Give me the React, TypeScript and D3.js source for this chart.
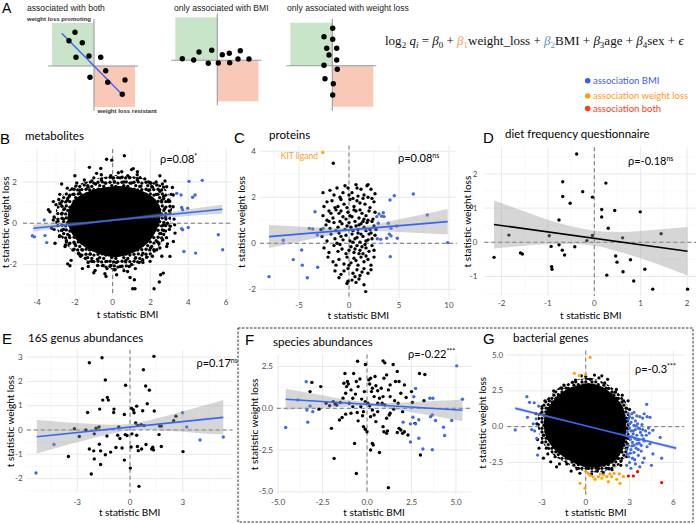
import React from "react";
import * as d3 from "d3";

// ---------------- Panel A schematic data (diagram units) ----------------
const schemaBoth = [[-1.9,3.37],[-2.5,2.53],[-1.17,2.33],[-1.8,0.87],[-0.5,1.0],[0.67,0.87],[1.17,-0.47],[-0.4,-1.13],[1.37,-1.63],[3.1,-1.4],[2.83,-2.83]];
const schemaBothLine = [[-3.23,3.27],[2.77,-2.8]];
const schemaBMI = [[-3.5,0.16],[-2.36,0.03],[-1.83,0.83],[-0.56,1.0],[-0.9,-0.3],[0.1,-0.27],[0.5,0.56],[1.2,0.7],[1.24,-0.24],[2.3,0.96],[2.07,0.13],[3.17,0.13]];
const schemaWL = [[0.04,3.74],[-0.83,2.9],[0.04,2.64],[-0.56,1.74],[0.44,1.74],[-0.33,1.07],[0.44,0.57],[-0.83,0.04],[0.5,-0.36],[-0.73,-1.3],[0.1,-1.8],[0.04,-2.93]];
const schemaTitles = ["associated with both", "only associated with BMI", "only associated with weight loss"];
const legendLabels = ["association BMI", "association weight loss", "association both"];

// ---------------- B: metabolites ----------------
// densest region (solid), surrounding dense region (speckled), then individual points
const metabCore = [[-2.3,0.5],[-2.0,1.1],[-1.4,1.45],[-0.7,1.65],[0.1,1.75],[0.9,1.7],[1.6,1.5],[2.2,1.15],[2.5,0.6],[2.4,0.0],[2.1,-0.6],[1.6,-1.1],[0.9,-1.45],[0.1,-1.6],[-0.7,-1.45],[-1.4,-1.15],[-2.0,-0.65],[-2.3,-0.1]];
const metabMid = [[-3.0,0.6],[-2.7,1.3],[-2.1,1.75],[-1.3,2.05],[-0.4,2.25],[0.4,2.35],[1.2,2.25],[2.0,2.05],[2.7,1.75],[3.1,1.1],[3.1,0.3],[2.85,-0.45],[2.45,-1.1],[1.9,-1.65],[1.1,-2.05],[0.3,-2.25],[-0.5,-2.15],[-1.3,-1.85],[-2.0,-1.45],[-2.6,-0.85],[-3.0,-0.15]];
const metabBlack = [[0.62,3.27],[-0.32,3.10],[-0.05,3.06],[-1.23,2.71],[-0.63,2.66],[1.09,2.65],[1.31,2.5],[0.48,2.5],[-0.85,2.42],[1.45,2.21],[2.77,2.05],[2.63,1.9],[2.33,1.85],[2.01,1.94],[2.86,1.77],[3.16,1.73],[3.21,1.37],[2.95,1.13],[-2.15,1.66],[-1.73,1.45],[-3.14,1.05],[-2.79,0.94],[-3.40,0.65],[-3.32,0.56],[-3.14,0.16],[-3.23,-0.24],[-2.82,-0.65],[-3.05,-0.97],[-2.52,-1.13],[-2.38,-1.97],[-2.26,-2.06],[-1.73,-1.53],[-1.29,-2.10],[-0.93,-2.29],[-0.41,-2.45],[-0.35,-2.58],[0.12,-2.26],[0.21,-2.5],[0.88,-2.10],[0.79,-2.34],[0.92,-2.63],[1.15,-2.74],[1.06,-3.18],[1.18,-3.18],[2.19,-3.18],[2.47,-2.85],[2.54,-2.5],[2.68,-2.42],[3.03,-1.61],[1.98,-1.85],[1.59,-1.77],[2.33,-1.29],[2.86,-1.13],[3.21,-0.89],[3.30,-0.48],[3.28,-0.08],
[-3.0,0.9],[-2.8,1.4],[-2.4,1.7],[-1.9,1.95],[-1.5,2.1],[-1.0,2.2],[-0.6,2.35],[-0.1,2.3],[0.3,2.45],[0.8,2.3],[1.3,2.35],[1.7,2.15],[2.3,2.0],[2.7,1.75],[3.1,1.4],[3.2,0.8],[3.25,0.2],[3.0,-0.3],[2.85,-0.7],[2.5,-1.2],[2.1,-1.6],[1.6,-1.9],[1.2,-2.2],[0.6,-2.3],[0.1,-2.25],[-0.3,-2.2],[-0.8,-2.05],[-1.3,-1.9],[-1.7,-1.6],[-2.1,-1.3],[-2.5,-1.05],[-2.8,-0.6],[-3.1,-0.3],[-3.1,0.3],[-2.2,-1.8],[-1.0,-2.4],[2.9,-1.0],[2.6,-1.6],[-2.7,1.9],[-2.0,2.3],[1.0,2.6],[2.5,2.3],[-1.6,-2.2],
[-2.6,0.2],[-2.55,0.7],[-2.4,1.1],[-2.1,1.4],[-1.75,1.6],[-1.3,1.75],[-0.9,1.9],[-0.4,1.95],[0.1,2.0],[0.6,2.0],[1.0,1.95],[1.5,1.8],[1.9,1.6],[2.3,1.4],[2.6,1.1],[2.75,0.7],[2.8,0.3],[2.7,-0.1],[2.55,-0.5],[2.3,-0.85],[2.0,-1.2],[1.6,-1.45],[1.2,-1.7],[0.7,-1.8],[0.2,-1.9],[-0.3,-1.85],[-0.8,-1.75],[-1.2,-1.5],[-1.6,-1.3],[-2.0,-1.0],[-2.3,-0.6],[-2.6,-0.3],
[-2.7,0.45],[-2.3,1.3],[-1.5,1.85],[-0.6,2.1],[0.4,2.2],[1.3,2.1],[2.1,1.75],[2.7,1.3],[3.0,0.6],[2.9,0.0],[2.7,-0.35],[2.45,-1.0],[1.8,-1.65],[1.0,-2.0],[0.4,-2.1],[-0.5,-2.05],[-1.1,-1.85],[-1.8,-1.45],[-2.3,-1.0],[-2.7,-0.35],[-2.9,0.1],
[-2.85,1.15],[-1.95,1.8],[-1.1,2.05],[0.0,2.2],[0.9,2.2],[1.9,2.0],[2.5,1.55],[2.95,1.05],[3.05,-0.15],[2.65,-0.8],[2.2,-1.35],[1.4,-1.9],[-0.1,-2.05],[-1.45,-1.7],[-2.45,-0.85],[-2.75,0.95]];
const metabBlue = [[-4.25,-0.61],[-4.14,-0.66],[-3.62,0.16],[-3.58,-0.60],[-3.49,-0.94],[3.65,0.76],[3.70,0.65],[3.62,1.37],[3.39,1.45],[4.04,2.03],[4.23,1.26],[4.36,1.37],[4.74,2.08],[3.97,0.73],[4.0,-0.21],[3.65,-0.27],[3.70,-0.32],[3.77,-1.37],[4.39,-1.45],[5.59,-0.56],[5.82,-1.29]];
const metabBandX = [-4.2,-3,-2,-1,0,1,2,3,4,5,5.8];
const metabBandLo = [-0.41,-0.26,-0.13,-0.01,0.10,0.18,0.24,0.29,0.35,0.42,0.46];
const metabBandHi = [-0.07,0.00,0.05,0.11,0.20,0.30,0.42,0.55,0.67,0.80,0.90];
const metabLineX = [-4.2,5.8];
const metabLineY = [-0.24,0.68];

// ---------------- C: proteins ----------------
const protBlack = [[-1.57,3.48],[0.7,2.55],[1.9,2.55],
[-2.6,2.2],[-1.9,2.3],[-1.2,2.4],[-0.4,2.5],[-0.1,2.4],[0.8,2.4],[1.2,2.35],[1.8,2.5],[2.2,2.35],[0.3,2.2],[-0.6,2.2],[1.5,2.1],[2.6,2.15],[-1.5,2.1],[0.9,2.05],[-0.9,2.0],[1.9,2.0],[0.0,2.1],
[-2.2,1.8],[-1.7,1.85],[-1.1,1.6],[-0.5,1.7],[0.1,1.9],[0.5,1.6],[1.1,1.75],[1.6,1.7],[2.1,1.55],[2.5,1.8],[-1.4,1.55],[-0.2,1.55],[0.8,1.85],[1.4,1.95],[2.3,1.95],[-2.5,1.6],[0.4,1.95],[-0.8,1.9],
[-2.6,1.2],[-2.0,1.4],[-1.6,1.1],[-1.0,1.3],[-0.6,1.15],[-0.1,1.35],[0.3,1.15],[0.7,1.4],[1.0,1.1],[1.3,1.3],[1.7,1.2],[2.0,1.4],[2.4,1.05],[-2.2,1.0],[-1.3,1.45],[-0.3,1.05],[0.5,1.45],[1.5,1.05],[1.9,1.0],[2.6,1.35],[-0.8,1.4],[0.1,1.2],[1.1,1.45],[-1.8,1.3],
[-2.8,0.6],[-2.3,0.8],[-1.9,0.65],[-1.5,0.9],[-1.1,0.7],[-0.7,0.85],[-0.4,0.6],[0.0,0.9],[0.2,0.7],[0.6,0.95],[0.9,0.6],[1.2,0.85],[1.5,0.7],[1.8,0.9],[2.1,0.6],[2.5,0.75],[-1.3,0.55],[0.4,0.55],[1.0,0.8],[1.7,0.55],[2.3,0.95],[-0.9,0.95],[0.7,0.75],[1.4,0.95],[-0.2,0.75],[2.7,0.6],[-2.0,0.95],
[-2.7,0.3],[-2.2,0.1],[-1.8,0.4],[-1.4,0.2],[-1.0,0.45],[-0.6,0.15],[-0.3,0.35],[0.1,0.1],[0.3,0.4],[0.6,0.2],[0.9,0.45],[1.1,0.05],[1.4,0.3],[1.7,0.1],[2.0,0.4],[2.3,0.2],[2.6,0.35],[-1.2,0.0],[0.8,0.25],[1.9,0.15],[0.4,0.05],[-0.8,0.3],[1.2,0.4],[2.2,0.45],
[-2.5,-0.2],[-2.0,-0.4],[-1.5,-0.1],[-1.1,-0.35],[-0.7,-0.25],[-0.3,-0.45],[0.2,-0.15],[0.5,-0.4],[0.8,-0.1],[1.1,-0.3],[1.4,-0.45],[1.7,-0.2],[2.0,-0.35],[2.3,-0.1],[0.0,-0.3],[1.0,-0.45],[1.6,-0.05],[-0.9,-0.05],[0.6,-0.25],[2.5,-0.3],[1.3,-0.15],
[-2.1,-0.6],[-1.6,-0.8],[-1.0,-0.7],[-0.5,-0.9],[-0.2,-0.6],[0.2,-0.85],[0.5,-0.65],[0.9,-0.95],[1.2,-0.6],[1.5,-0.8],[1.9,-0.7],[2.2,-0.95],[0.7,-0.75],[1.7,-0.55],[0.0,-0.95],[2.5,-0.6],[-1.3,-0.95],
[-1.4,-1.2],[-0.8,-1.35],[-0.1,-1.1],[0.4,-1.3],[0.8,-1.15],[1.1,-1.4],[1.5,-1.1],[1.9,-1.3],[2.2,-1.15],[0.6,-1.45],[1.3,-1.25],[-0.5,-1.2],
[-0.2,-1.75],[-0.1,-1.65],[0.3,-1.6],[1.0,-1.55],[1.67,-2.1],[1.5,-1.8],[0.7,-1.7],[-1.0,-1.5]];
const protBlue = [[-8.0,-1.45],[-6.57,0.13],[-5.57,-0.71],[-4.73,-0.29],[-4.67,-0.95],[-4.17,-1.50],[-3.97,0.65],[-3.63,0.62],[-3.40,1.37],[-3.13,-1.04],[-3.17,0.36],[-2.57,0.64],[2.77,1.16],[3.0,1.27],[3.27,1.18],[3.43,1.33],[3.5,1.16],[2.93,0.87],[3.77,0.22],[2.83,0.20],[3.17,0.17],[4.03,0.40],[4.2,0.32],[3.93,0.87],[4.2,0.65],[4.13,-0.58],[4.1,1.88],[4.53,2.07],[4.83,0.22],[4.77,0.75],[6.43,2.14],[7.83,1.23],[9.87,0.03]];
const protOrange = [[-2.63,3.95]];
const protBandX = [-8,-6,-4,-2,0,2,4,6,8,9.87];
const protBandLo = [-0.21,-0.03,0.16,0.34,0.50,0.53,0.51,0.47,0.43,0.39];
const protBandHi = [0.79,0.75,0.70,0.68,0.66,0.77,0.95,1.13,1.31,1.49];
const protLineX = [-8.0,9.87];
const protLineY = [0.29,0.94];

// ---------------- D: diet frequency questionnaire ----------------
const dietBlack = [[-0.38,2.58],[-0.68,1.77],[0.25,1.73],[-0.25,1.48],[-0.68,1.34],[-0.04,1.32],[-0.52,1.14],[0.16,0.96],[0.44,0.93],[0.99,0.89],[0.16,0.74],[-0.76,0.65],[0.30,0.41],[-1.84,0.21],[-0.97,0.19],[-0.04,0.20],[1.44,0.25],[0.61,0.13],[-0.16,0.05],[-0.76,-0.07],[-0.93,-0.12],[-0.42,-0.13],[-0.69,-0.23],[-1.59,-0.31],[-1.55,-0.34],[-0.64,-0.37],[-2.16,-0.44],[0.46,-0.40],[0.49,-0.58],[0.78,-0.51],[-0.92,-0.71],[-0.91,-0.79],[1.09,-0.79],[0.62,-0.86],[0.27,-0.96],[0.85,-1.13],[1.26,-1.37],[2.01,-1.37]];
const dietBandX = [-2.16,-1.5,-1.0,-0.5,0,0.5,1.0,1.5,2.01];
const dietBandLo = [-0.18,-0.10,-0.06,-0.05,-0.10,-0.26,-0.47,-0.71,-0.97];
const dietBandHi = [1.22,0.90,0.66,0.47,0.34,0.30,0.33,0.39,0.45];
const dietLineX = [-2.16,2.01];
const dietLineY = [0.52,-0.26];

// ---------------- E: 16S genus abundances ----------------
const genusBlack = [[1.36,3.03],[-1.59,2.97],[-2.31,2.77],[0.76,2.48],[-1.40,2.06],[-0.25,1.84],[0.89,1.81],[1.10,1.64],[-1.29,1.34],[-1.23,1.23],[-1.55,1.23],[0.98,1.08],[0.38,0.98],[-1.72,0.86],[-0.91,0.86],[0.09,0.89],[0.19,0.82],[0.72,0.79],[1.38,0.78],[-0.93,0.72],[-2.41,0.72],[0.23,0.71],[-0.32,0.64],[2.61,0.57],[2.48,0.38],[0.32,0.29],[0.64,0.22],[0.80,0.18],[1.78,0.16],[1.69,0.16],[0.45,0.19],[-3.16,0.05],[-1.76,0.12],[-1.93,0.07],[-2.50,0.00],[-0.64,0.12],[-0.27,-0.19],[0.11,-0.16],[-0.17,-0.23],[-2.88,-0.27],[-2.03,-0.16],[-1.31,-0.25],[-0.70,-0.22],[-0.57,-0.35],[0.38,-0.22],[1.65,-0.19],[-2.31,-0.78],[-2.06,-0.86],[-1.67,-0.86],[-1.40,-1.02],[-1.74,-0.59],[-1.10,-0.91],[-0.80,-0.72],[-0.45,-0.74],[0.06,-0.70],[0.42,-0.68],[0.47,-0.85],[0.66,-0.78],[0.91,-0.60],[1.23,-0.78],[1.29,-0.71],[1.34,-0.82],[1.78,-0.68],[3.01,-0.89],[-3.50,-1.09],[-2.03,-1.19],[-0.32,-1.24],[-1.67,-1.42],[0.02,-1.57],[-2.20,-1.81],[0.51,-2.32]];
const genusBlue = [[2.99,0.71],[3.22,0.12],[3.98,-0.41],[5.30,-0.29],[-4.32,-0.60],[-5.34,-1.77]];
const genusBandX = [-5.3,-4,-3,-2,-1,0,1,2,3,4,5.3];
const genusBandLo = [-0.97,-0.70,-0.51,-0.31,-0.14,-0.01,0.01,-0.03,-0.07,-0.13,-0.19];
const genusBandHi = [0.41,0.34,0.29,0.25,0.22,0.25,0.39,0.57,0.77,0.97,1.23];
const genusLineX = [-5.3,5.3];
const genusLineY = [-0.28,0.52];

// ---------------- F: species abundances ----------------
const speciesBlack = [[-0.53,2.82],[-0.09,2.62],[0.9,2.84],[1.0,2.72],[1.47,2.62],[-1.24,2.08],[-0.75,2.08],[2.95,2.08],[3.25,2.02],[1.7,2.2],[-0.4,1.75],[0.2,1.8],[0.1,1.7],[0.5,1.35],[-1.1,1.6],[-1.05,1.45],[-3.1,1.55],[-3.2,1.0],[-2.6,1.3],[0.95,1.8],[1.3,1.4],[1.6,1.6],[1.2,1.1],[0.8,1.2],[0.6,1.05],[0.3,1.2],[0.25,1.0],[-0.15,1.0],[-0.5,1.3],[-0.65,0.85],[-0.9,1.1],[-1.2,0.9],[-1.35,0.6],[-1.7,0.2],[-1.8,0.25],[-1.9,0.4],[-2.3,0.3],[-2.7,-0.05],[-1.0,0.3],[-0.8,0.6],[-0.3,0.55],[0.05,0.3],[0.15,0.15],[0.4,0.7],[0.7,0.6],[0.9,0.7],[1.3,0.7],[1.9,0.9],[2.1,1.4],[1.8,1.6],[2.5,1.0],[3.2,0.45],[2.2,0.65],[2.0,-0.2],[1.3,-0.3],[1.25,-0.4],[0.6,-0.2],[0.4,-0.4],[0.2,-0.5],[-0.2,-0.2],[-0.55,-0.25],[-0.8,0.1],[-1.2,-0.35],[-1.4,-0.55],[-1.55,-0.7],[-2.0,-1.2],[-0.5,-0.75],[-0.2,-1.1],[0.0,-1.4],[-0.1,-1.25],[0.5,-0.8],[0.9,-1.1],[0.95,-1.4],[1.1,-1.5],[1.8,-1.2],[1.9,-1.3],[2.0,-1.5],[2.1,-1.4],[2.3,-1.6],[1.7,-1.45],[-0.7,-2.1],[0.3,-2.1],[0.35,-2.2],[0.2,-2.5],[0.7,-2.65],[3.0,-2.8],[-1.85,-3.0],[-0.6,-3.9],[1.2,-4.75],[-0.35,0.1],[0.6,0.3],[1.0,0.2],[1.5,-0.05],[1.75,0.3],[-0.1,0.4],[-1.5,0.35],[-2.1,0.15],[0.85,0.3],[1.1,-0.6],[0.3,-0.1],[-0.9,-0.3],[-1.3,1.5],[-1.15,1.3],[-0.6,1.6],[0.15,1.45],[0.45,1.9],[1.1,2.0],[2.55,0.35],[1.55,0.45],[-0.25,-0.45],[1.15,-1.35],[2.7,-0.9]];
const speciesBlue = [[-4.57,-1.15],[-3.42,1.59],[-3.89,0.50],[-3.38,-0.10],[-3.33,-0.83],[-3.20,0.14],[-3.05,-0.20],[2.73,1.19],[2.63,0.69],[2.58,-0.54],[2.44,-0.93],[2.44,-2.02],[2.73,-0.93],[2.91,-0.69],[2.91,-1.79],[3.14,-2.44],[3.67,-2.48],[3.53,0.60],[3.70,0.60],[3.67,-0.40],[3.57,-0.50],[3.85,-0.73],[4.30,-1.13],[4.36,-1.63],[4.76,-0.73],[5.04,2.54],[5.36,0.54],[2.03,-0.83]];
const speciesBandX = [-4.57,-3,-2,-1,0,1,2,3,4,5.36];
const speciesBandLo = [-0.09,0.01,0.06,0.11,0.13,0.04,-0.14,-0.32,-0.51,-0.77];
const speciesBandHi = [1.17,0.87,0.68,0.49,0.35,0.30,0.34,0.40,0.45,0.53];
const speciesLineX = [-4.57,5.36];
const speciesLineY = [0.54,-0.12];

// ---------------- G: bacterial genes ----------------
const genesCore = [[-2.8,0.4],[-2.6,1.15],[-2.2,1.75],[-1.7,2.25],[-1.1,2.6],[-0.4,2.85],[0.3,2.95],[0.9,2.8],[1.5,2.45],[2.0,2.0],[2.45,1.4],[2.65,0.7],[2.7,0.0],[2.65,-0.7],[2.55,-1.35],[2.25,-1.95],[1.8,-2.45],[1.2,-2.7],[0.5,-2.8],[-0.2,-2.7],[-0.8,-2.45],[-1.4,-2.1],[-2.0,-1.65],[-2.5,-1.0],[-2.75,-0.35]];
const genesMid = [[-3.3,0.5],[-3.1,1.3],[-2.6,2.0],[-2.0,2.6],[-1.3,3.0],[-0.5,3.3],[0.3,3.4],[1.0,3.2],[1.7,2.8],[2.3,2.3],[2.8,1.6],[3.0,0.8],[3.0,0.0],[3.0,-0.8],[2.9,-1.6],[2.6,-2.3],[2.1,-2.8],[1.4,-3.1],[0.6,-3.2],[-0.2,-3.1],[-0.9,-2.8],[-1.6,-2.4],[-2.3,-1.9],[-2.9,-1.2],[-3.2,-0.4]];
const genesBlack = [[-3.4,0.9],[-3.3,-0.9],[-3.2,-1.5],[-2.4,-2.45],[-1.8,-2.6],[-2.8,1.8],[-2.2,2.5],[-1.5,2.9],[-0.7,3.25],[0.0,3.5],[0.6,3.6],[1.1,3.55],[1.5,3.3],[2.1,2.6],[2.5,2.2],[-0.3,3.55],[0.9,3.4],[-1.0,-3.1],[-0.4,-3.25],[0.4,-3.3],[1.2,-3.2],[1.8,-3.0],[2.4,-2.7],[2.8,-2.1],[-2.6,-1.9],[-3.0,-1.1],[-3.35,0.2],[-3.0,1.4],[2.9,1.8],[3.0,1.2],[-2.9,-2.2],[-2.0,-2.8],[-3.1,0.9],[-2.9,-0.6],[-2.5,1.8],[-1.7,2.7],[-0.9,3.1],[0.3,3.3],[1.3,3.05],[2.0,2.4],[2.6,1.8],[2.85,0.4],[2.85,-1.2],[2.4,-2.4],[1.6,-2.95],[0.8,-3.1],[-0.6,-2.95],[-1.3,-2.6],[-2.1,-2.1],[-2.7,-1.5]];
const genesBlue = [[2.9,0.5],[3.0,0.7],[3.1,0.3],[3.2,0.6],[3.3,0.1],[3.4,0.4],[3.5,0.75],[3.7,0.7],[3.9,0.6],[4.2,0.7],[4.4,0.65],[3.0,-0.1],[3.1,-0.3],[3.25,-0.5],[3.4,-0.2],[3.5,-0.6],[3.6,-0.1],[3.75,-0.4],[3.9,-0.2],[4.1,-0.3],[4.35,-0.45],[4.6,-0.25],[2.95,-0.7],[3.05,-0.9],[3.2,-1.1],[3.35,-0.8],[3.5,-1.2],[3.65,-0.9],[3.8,-1.3],[4.0,-1.0],[4.2,-1.4],[4.4,-1.2],[2.9,-1.3],[3.1,-1.6],[3.3,-1.8],[3.45,-1.5],[3.6,-2.0],[3.8,-1.7],[4.0,-2.2],[3.2,-2.2],[3.0,-2.5],[3.4,-2.6],[3.7,-2.8],[2.85,-1.9],[2.8,-2.7],[3.9,-2.5],[4.5,-2.7],[5.2,-2.2],[5.1,-0.75],[4.17,1.56],[3.15,0.9],[2.9,0.95],[3.55,0.2],[3.25,-0.3],[3.0,0.2],[3.15,-1.35],[3.6,-1.6],[4.15,-0.6],[3.85,0.15],[2.95,-2.1],[3.35,-2.3],[2.85,-0.35],[4.6,-1.9],[3.3,1.0],[3.7,-0.15],[3.05,-1.85],[3.5,-0.9],[2.8,-1.6],[4.3,-0.1],[3.95,-0.85],[3.1,-2.9],[4.0,0.9],[3.45,0.05],[3.3,-1.3],[3.65,-1.15],[3.15,-0.7],[3.85,-0.6],
[-4.83,-0.23],[-4.03,2.09],[-3.85,1.7],[-3.53,1.67],[-3.23,1.44],[-3.99,0.65],[-3.6,0.2],[-3.5,-0.3],[-3.7,-0.2],[-3.35,-0.81],[-3.3,-1.98],[-3.4,0.55]];
const genesOrange = [[0.3,4.84],[-0.78,3.72],[-0.43,3.56],[0.0,3.65],[-0.39,-3.95],[-0.05,-4.3],[0.18,-3.26],[0.3,-3.4],[0.64,-3.67],[0.87,-3.49],[1.1,-3.6],[1.21,-3.37],[1.44,-3.49],[1.55,-3.84],[1.78,-3.49],[1.94,-3.26],[2.12,-3.67],[2.35,-3.95],[2.58,-3.49],[0.02,-3.14],[1.0,-3.3],[1.65,-3.3],[2.3,-3.3],[0.5,-3.5]];
const genesRed = [[2.92,-3.44],[3.26,-3.44],[3.55,-3.14],[5.2,-3.9]];
const genesBandX = [-4.83,-2,0,2,4,6.2];
const genesBandLo = [1.15,0.50,0.03,-0.50,-1.04,-1.65];
const genesBandHi = [1.41,0.62,0.09,-0.40,-0.86,-1.37];
const genesLineX = [-4.83,6.2];
const genesLineY = [1.28,-1.51];

// ---------------- styling ----------------
const BLUE_PT = "#4169E1";
const ORANGE_PT = "#FFA500";
const RED_PT = "#FF0000";
const LINE_BLUE = "#3366FF";
const LATO = "Lato, 'Open Sans', sans-serif";
const SANS = "'Liberation Sans', Arial, sans-serif";

type Spec = {
  xDomain: [number, number]; xRange: [number, number];
  yDomain: [number, number]; yRange: [number, number];
  xTicks: number[]; yTicks: number[]; xDec: boolean; yDec: boolean;
  black: number[][]; blue?: number[][]; orange?: number[][]; red?: number[][];
  core?: number[][]; mid?: number[][]; pattern?: string;
  bandX: number[]; bandLo: number[]; bandHi: number[];
  lineX: number[]; lineY: number[]; lineColor: string;
  letter: string; letterPos: [number, number];
  title: string; titlePos: [number, number];
  rho: string; rhoSup: string; rhoPos: [number, number];
  yTitleX: number; xTitleY: number; tickGap: number; xTickY: number;
  r: number;
};

function minorOf(ticks: number[], dom: [number, number]) {
  const step = ticks[1] - ticks[0];
  const out: number[] = [];
  for (let v = ticks[0] - step * 1.5; v <= ticks[ticks.length - 1] + step * 1.5; v += step) {
    if (v >= Math.min(...dom) && v <= Math.max(...dom)) out.push(v);
  }
  return out;
}

function fmt(v: number, dec: boolean) {
  return dec ? v.toFixed(1) : String(v);
}

function Panel({ p }: { p: Spec }) {
  const x = d3.scaleLinear().domain(p.xDomain).range(p.xRange);
  const y = d3.scaleLinear().domain(p.yDomain).range(p.yRange);
  const [xl, xr] = p.xRange;
  const [yb, yt] = p.yRange;
  const xt = p.xTicks.filter((t) => t >= p.xDomain[0] && t <= p.xDomain[1]);
  const yt2 = p.yTicks.filter((t) => t >= p.yDomain[0] && t <= p.yDomain[1]);
  const xm = minorOf(p.xTicks, p.xDomain);
  const ym = minorOf(p.yTicks, p.yDomain);
  const area = d3.area<number>()
    .x((_, i) => x(p.bandX[i]))
    .y0((_, i) => y(p.bandLo[i]))
    .y1((_, i) => y(p.bandHi[i]))
    .curve(d3.curveMonotoneX);
  const line = d3.line<number>().x((_, i) => x(p.lineX[i])).y((_, i) => y(p.lineY[i]));
  const shape = d3.line<number[]>().x((d) => x(d[0])).y((d) => y(d[1])).curve(d3.curveCatmullRomClosed);
  const dots = (arr: number[][] | undefined, col: string) =>
    (arr || []).map((d, i) => <circle key={col + i} cx={x(d[0])} cy={y(d[1])} r={p.r} fill={col} />);
  const cx = (xl + xr) / 2;
  const cy = (yb + yt) / 2;
  return (
    <g>
      {xm.map((v, i) => <line key={"xm" + i} x1={x(v)} x2={x(v)} y1={yt} y2={yb} stroke="#f3f3f3" strokeWidth={0.6} />)}
      {ym.map((v, i) => <line key={"ym" + i} x1={xl} x2={xr} y1={y(v)} y2={y(v)} stroke="#f3f3f3" strokeWidth={0.6} />)}
      {xt.map((v, i) => <line key={"xt" + i} x1={x(v)} x2={x(v)} y1={yt} y2={yb} stroke="#e6e6e6" strokeWidth={0.9} />)}
      {yt2.map((v, i) => <line key={"yt" + i} x1={xl} x2={xr} y1={y(v)} y2={y(v)} stroke="#e6e6e6" strokeWidth={0.9} />)}
      <line x1={x(0)} x2={x(0)} y1={yt} y2={yb} stroke="#555" strokeWidth={0.8} strokeDasharray="4 3" />
      <line x1={xl} x2={xr} y1={y(0)} y2={y(0)} stroke="#555" strokeWidth={0.8} strokeDasharray="4 3" />
      {p.mid && <path d={shape(p.mid) || ""} fill={`url(#${p.pattern})`} />}
      {p.core && <path d={shape(p.core) || ""} fill="#000" stroke="#000" strokeWidth={2} strokeLinejoin="round" />}
      {dots(p.black, "#000")}
      {dots(p.blue, BLUE_PT)}
      {dots(p.orange, ORANGE_PT)}
      {dots(p.red, RED_PT)}
      <path d={area(p.bandX) || ""} fill="#999" fillOpacity={0.4} />
      <path d={line(p.lineX) || ""} stroke={p.lineColor} strokeWidth={1.6} fill="none" />
      {xt.map((v, i) => (
        <text key={"xl" + i} x={x(v)} y={p.xTickY} textAnchor="middle" fontSize={8} fill="#4d4d4d" fontFamily={LATO}>{fmt(v, p.xDec)}</text>
      ))}
      {yt2.map((v, i) => (
        <text key={"yl" + i} x={xl - p.tickGap} y={y(v)} dy="0.33em" textAnchor="end" fontSize={8} fill="#4d4d4d" fontFamily={LATO}>{fmt(v, p.yDec)}</text>
      ))}
      <text x={cx} y={p.xTitleY} textAnchor="middle" fontSize={10} fontFamily={LATO} fill="#000">t statistic BMI</text>
      <text transform={`translate(${p.yTitleX},${cy}) rotate(-90)`} textAnchor="middle" dy="0.35em" fontSize={10} fontFamily={LATO} fill="#000">t statistic weight loss</text>
      <text x={p.letterPos[0]} y={p.letterPos[1]} fontSize={15} fontFamily={SANS} fill="#000">{p.letter}</text>
      <text x={p.titlePos[0]} y={p.titlePos[1]} fontSize={11.5} fontFamily={LATO} fill="#000">{p.title}</text>
      <text x={p.rhoPos[0]} y={p.rhoPos[1]} fontSize={11} fontFamily={LATO} fill="#000">
        {p.rho}<tspan fontSize={7} dy={-4}>{p.rhoSup}</tspan>
      </text>
    </g>
  );
}

function Schema({ ox, oy, pts, line, title, tx }: { ox: number; oy: number; pts: number[][]; line?: number[][]; title: string; tx: number }) {
  const sx = d3.scaleLinear().domain([0, 1]).range([ox, ox + 10]);
  const sy = d3.scaleLinear().domain([0, 1]).range([oy, oy - 10]);
  return (
    <g>
      <rect x={sx(-4.2)} y={sy(4.3)} width={sx(0) - sx(-4.2)} height={sy(0) - sy(4.3)} fill="#c9e5c9" />
      <rect x={sx(0)} y={sy(0)} width={sx(4.1) - sx(0)} height={sy(-4.1) - sy(0)} fill="#f9c8b7" />
      <line x1={sx(0)} x2={sx(0)} y1={sy(4.7)} y2={sy(-4.5)} stroke="#9a9a9a" strokeWidth={1.1} />
      <line x1={sx(-4.6)} x2={sx(4.4)} y1={sy(0)} y2={sy(0)} stroke="#9a9a9a" strokeWidth={1.1} />
      {line && <line x1={sx(line[0][0])} y1={sy(line[0][1])} x2={sx(line[1][0])} y2={sy(line[1][1])} stroke="#3a5ef0" strokeWidth={1.3} />}
      {pts.map((d, i) => <circle key={i} cx={sx(d[0])} cy={sy(d[1])} r={2.7} fill="#000" />)}
      <text x={tx} y={10.5} fontSize={8.6} fontFamily={SANS} fill="#222">{title}</text>
    </g>
  );
}

const specs: Spec[] = [
  {
    xDomain: [-4.75, 6.32], xRange: [22.9, 232.1], yDomain: [-3.52, 3.6], yRange: [295.8, 149],
    xTicks: [-4, -2, 0, 2, 4, 6], yTicks: [-2, 0, 2], xDec: false, yDec: false,
    black: metabBlack, blue: metabBlue, core: metabCore, mid: metabMid, pattern: "speckle",
    bandX: metabBandX, bandLo: metabBandLo, bandHi: metabBandHi, lineX: metabLineX, lineY: metabLineY, lineColor: LINE_BLUE,
    letter: "B", letterPos: [0, 144], title: "metabolites", titlePos: [25, 140],
    rho: "ρ=0.08", rhoSup: "*", rhoPos: [160, 162.5], yTitleX: 5.5, xTitleY: 317.5, tickGap: 6, xTickY: 305, r: 1.7,
  },
  {
    xDomain: [-8.9, 10.76], xRange: [260, 456.6], yDomain: [-2.4, 4.25], yRange: [298.5, 145.5],
    xTicks: [-5, 0, 5, 10], yTicks: [-2, 0, 2, 4], xDec: false, yDec: false,
    black: protBlack, blue: protBlue, orange: protOrange,
    bandX: protBandX, bandLo: protBandLo, bandHi: protBandHi, lineX: protLineX, lineY: protLineY, lineColor: LINE_BLUE,
    letter: "C", letterPos: [234, 143], title: "proteins", titlePos: [269, 139],
    rho: "ρ=0.08", rhoSup: "ns", rhoPos: [398, 161.5], yTitleX: 241, xTitleY: 319, tickGap: 4, xTickY: 307.5, r: 1.7,
  },
  {
    xDomain: [-2.37, 2.22], xRange: [484.3, 697.3], yDomain: [-1.57, 2.78], yRange: [296, 147.2],
    xTicks: [-2, -1, 0, 1, 2], yTicks: [-1, 0, 1, 2], xDec: false, yDec: false,
    black: dietBlack,
    bandX: dietBandX, bandLo: dietBandLo, bandHi: dietBandHi, lineX: dietLineX, lineY: dietLineY, lineColor: "#000",
    letter: "D", letterPos: [483, 143], title: "diet frequency questionnaire", titlePos: [505, 138],
    rho: "ρ=-0.18", rhoSup: "ns", rhoPos: [628, 165], yTitleX: 467.5, xTitleY: 318.5, tickGap: 7, xTickY: 306, r: 1.7,
  },
  {
    xDomain: [-5.87, 5.83], xRange: [26.7, 232.6], yDomain: [-2.59, 3.3], yRange: [492.9, 349.8],
    xTicks: [-3, 0, 3], yTicks: [-2, -1, 0, 1, 2, 3], xDec: false, yDec: false,
    black: genusBlack, blue: genusBlue,
    bandX: genusBandX, bandLo: genusBandLo, bandHi: genusBandHi, lineX: genusLineX, lineY: genusLineY, lineColor: LINE_BLUE,
    letter: "E", letterPos: [2, 344], title: "16S genus abundances", titlePos: [28, 342],
    rho: "ρ=0.17", rhoSup: "ns", rhoPos: [196.5, 366.5], yTitleX: 10, xTitleY: 515.5, tickGap: 4, xTickY: 504.5, r: 1.7,
  },
  {
    xDomain: [-5.07, 5.86], xRange: [276.8, 471.3], yDomain: [-5.13, 3.22], yRange: [494, 354.5],
    xTicks: [-5, -2.5, 0, 2.5, 5], yTicks: [-5, -2.5, 0, 2.5], xDec: true, yDec: true,
    black: speciesBlack, blue: speciesBlue,
    bandX: speciesBandX, bandLo: speciesBandLo, bandHi: speciesBandHi, lineX: speciesLineX, lineY: speciesLineY, lineColor: LINE_BLUE,
    letter: "F", letterPos: [245, 345], title: "species abundances", titlePos: [273, 346],
    rho: "ρ=-0.22", rhoSup: "***", rhoPos: [408, 358], yTitleX: 254, xTitleY: 515.5, tickGap: 4, xTickY: 504.5, r: 1.7,
  },
  {
    xDomain: [-5.38, 6.75], xRange: [507.2, 684.3], yDomain: [-4.76, 5.3], yRange: [494.9, 350.7],
    xTicks: [-3, 0, 3, 6], yTicks: [-2.5, 0, 2.5, 5], xDec: false, yDec: true,
    black: genesBlack, blue: genesBlue, orange: genesOrange, red: genesRed, core: genesCore, mid: genesMid, pattern: "speckleDense",
    bandX: genesBandX, bandLo: genesBandLo, bandHi: genesBandHi, lineX: genesLineX, lineY: genesLineY, lineColor: LINE_BLUE,
    letter: "G", letterPos: [483, 344], title: "bacterial genes", titlePos: [513, 342],
    rho: "ρ=-0.3", rhoSup: "***", rhoPos: [635, 373], yTitleX: 482.5, xTitleY: 515.5, tickGap: 4, xTickY: 504.5, r: 1.6,
  },
];

const speckleDots = [[2.0,2.2],[6.3,1.9],[9.9,3.1],[3.7,5.6],[7.8,6.4],[2.1,9.2],[5.7,9.9],[9.8,9.6]];
const speckleDenseDots = [[2.0,2.0],[5.8,1.8],[8.3,4.6],[3.9,5.2],[1.9,8.3],[6.1,8.2],[8.4,8.4]];

export default function App() {
  const legendCols = ["#3b5cf5", "#ff9a1a", "#ff3a1a"];
  const legendY = [80.7, 96, 108.5];
  return (
    <svg width={696} height={524} viewBox="0 0 696 524" style={{ position: "absolute", left: 0, top: 0, background: "#fff" }}>
      <defs>
        <pattern id="speckle" width={12} height={12} patternUnits="userSpaceOnUse">
          {speckleDots.map((d, i) => <circle key={i} cx={d[0]} cy={d[1]} r={1.7} fill="#000" />)}
        </pattern>
        <pattern id="speckleDense" width={10} height={10} patternUnits="userSpaceOnUse">
          {speckleDenseDots.map((d, i) => <circle key={i} cx={d[0]} cy={d[1]} r={1.65} fill="#000" />)}
        </pattern>
      </defs>
      <rect x={0} y={0} width={696} height={524} fill="#fff" />
      <text x={2} y={13} fontSize={14} fontFamily={SANS}>A</text>
      <Schema ox={94} oy={66} pts={schemaBoth} line={schemaBothLine} title={schemaTitles[0]} tx={27} />
      <Schema ox={217.3} oy={60.3} pts={schemaBMI} title={schemaTitles[1]} tx={174} />
      <Schema ox={332.3} oy={65.7} pts={schemaWL} title={schemaTitles[2]} tx={287} />
      <text x={27} y={20.5} fontSize={6} fontWeight={700} fontFamily={SANS} fill="#333">weight loss promoting</text>
      <text x={97.5} y={112.5} fontSize={6} fontWeight={700} fontFamily={SANS} fill="#333">weight loss resistant</text>
      <text x={385} y={45} fontSize={13} fontFamily="'Liberation Serif', 'DejaVu Serif', serif" fill="#111">
        <tspan>log</tspan><tspan fontSize={9} dy={3}>2</tspan>
        <tspan dy={-3} fontStyle="italic"> q</tspan><tspan fontSize={9} dy={3} fontStyle="italic">i</tspan>
        <tspan dy={-3}> = </tspan><tspan fontStyle="italic">β</tspan><tspan fontSize={9} dy={3}>0</tspan>
        <tspan dy={-3}> + </tspan><tspan fontStyle="italic" fill="#f5a05a">β</tspan><tspan fontSize={9} dy={3} fill="#f5a05a">1</tspan>
        <tspan dy={-3}>weight_loss + </tspan><tspan fontStyle="italic" fill="#5b8fd6">β</tspan><tspan fontSize={9} dy={3} fill="#5b8fd6">2</tspan>
        <tspan dy={-3}>BMI  + </tspan><tspan fontStyle="italic">β</tspan><tspan fontSize={9} dy={3}>3</tspan>
        <tspan dy={-3}>age + </tspan><tspan fontStyle="italic">β</tspan><tspan fontSize={9} dy={3}>4</tspan>
        <tspan dy={-3}>sex + </tspan><tspan fontStyle="italic">ϵ</tspan>
      </text>
      {legendLabels.map((l, i) => (
        <g key={l}>
          <circle cx={587.7} cy={legendY[i]} r={2.8} fill={legendCols[i]} />
          <text x={593} y={legendY[i]} dy="0.35em" fontSize={9.5} fontFamily={LATO} fill={legendCols[i]}>{l}</text>
        </g>
      ))}
      {specs.map((s, i) => <Panel key={i} p={s} />)}
      <text x={318} y={158.5} textAnchor="end" fontSize={8.5} fontFamily={LATO} fill="#FF9A1A">KIT ligand</text>
      <rect x={238} y={328} width={455} height={194} fill="none" stroke="#333" strokeWidth={1} strokeDasharray="2.5 1.5" />
    </svg>
  );
}
